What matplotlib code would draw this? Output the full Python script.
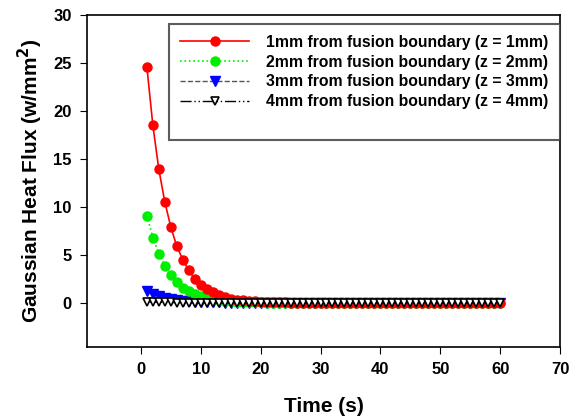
import matplotlib.pyplot as plt
import numpy as np

plt.rcParams['font.family'] = ['Liberation Sans', 'DejaVu Sans']
plt.rcParams['font.weight'] = 'bold'

time_s = list(range(1, 61))

flux_1mm = [24.6, 18.5, 13.9, 10.5, 7.9, 5.9, 4.5, 3.4, 2.5, 1.9,
            1.4, 1.1, 0.8, 0.6, 0.45, 0.34, 0.26, 0.19, 0.15, 0.11,
            0.08, 0.06, 0.05, 0.04, 0.03, 0.02, 0.02, 0.01, 0.01, 0.01] + [0.0] * 30
flux_2mm = [9.1, 6.8, 5.1, 3.85, 2.9, 2.2, 1.6, 1.2, 0.9, 0.7,
            0.5, 0.4, 0.3, 0.22, 0.17, 0.13, 0.1, 0.07, 0.05, 0.04,
            0.03, 0.02, 0.02, 0.01, 0.01] + [0.0] * 35
flux_3mm = [1.2, 0.9, 0.7, 0.5, 0.38, 0.28, 0.21, 0.16, 0.12, 0.09,
            0.07, 0.05, 0.04, 0.03, 0.02, 0.02, 0.01, 0.01] + [0.0] * 42
flux_4mm = [0.12, 0.09, 0.07, 0.05, 0.04, 0.03, 0.02, 0.02, 0.01, 0.01] + [0.0] * 50

labels = ['1mm from fusion boundary (z = 1mm)',
          '2mm from fusion boundary (z = 2mm)',
          '3mm from fusion boundary (z = 3mm)',
          '4mm from fusion boundary (z = 4mm)']

fig = plt.figure(figsize=(5.8, 4.19), dpi=100)
ax = fig.add_axes([87 / 580, 1 - 347 / 419, (560 - 87) / 580, (347 - 15) / 419])

ax.plot(time_s, flux_1mm, '-o', color='red', markersize=6.5, lw=1.2, label=labels[0], zorder=5)
ax.plot(time_s, flux_2mm, ':o', color='#00ee00', markersize=6.5, lw=1.2, label=labels[1], zorder=4)
ax.plot(time_s, flux_3mm, '--v', color='#555555', markerfacecolor='blue',
        markeredgecolor='blue', markersize=6.5, lw=1, label=labels[2], zorder=3)
ax.plot(time_s, flux_4mm, linestyle=(0, (8, 2, 1, 2, 1, 2)), marker='v', color='black',
        markerfacecolor='white', markersize=6, mew=1.2, lw=1, label=labels[3], zorder=6)
ax.plot([], [], ' ', label=' ')   # blank row, legend box has empty space at the bottom

ax.set_xlim(-9, 70)
ax.set_ylim(-4.6, 30)
ax.set_xticks(np.arange(0, 71, 10))
ax.set_yticks(np.arange(0, 31, 5))
ax.tick_params(direction='out', length=5, labelsize=12, pad=6)
for s in ax.spines.values():
    s.set_linewidth(1.2)

ax.set_xlabel('Time (s)', fontsize=15, fontweight='bold', labelpad=14)
ax.set_ylabel('Gaussian Heat Flux (w/mm$^\\mathbf{2}$)', fontsize=15, fontweight='bold', labelpad=6)

leg = ax.legend(loc='upper left', bbox_to_anchor=(169 / 580, 1 - 24 / 419),
                bbox_transform=fig.transFigure, fontsize=11.3,
                fancybox=False, edgecolor='#333333', borderpad=0.7, handlelength=4.4,
                handletextpad=1.1, labelspacing=0.3, borderaxespad=0)
leg.get_frame().set_linewidth(1.5)

plt.savefig('out.png', dpi=100)
